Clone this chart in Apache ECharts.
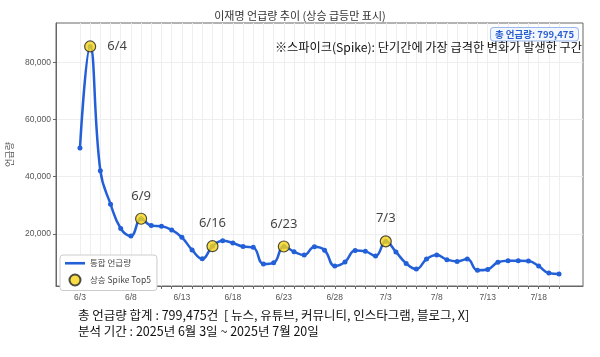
<!DOCTYPE html>
<html><head><meta charset="utf-8">
<script src="https://cdn.jsdelivr.net/npm/echarts@6/dist/echarts.min.js"></script>
<style>html,body{margin:0;padding:0;background:#fff}#c{width:600px;height:357px}</style>
</head><body><div id="c"></div>
<script>
const dates = ['6/3','6/4','6/5','6/6','6/7','6/8','6/9','6/10','6/11','6/12','6/13','6/14','6/15','6/16','6/17','6/18','6/19','6/20','6/21','6/22','6/23','6/24','6/25','6/26','6/27','6/28','6/29','6/30','7/1','7/2','7/3','7/4','7/5','7/6','7/7','7/8','7/9','7/10','7/11','7/12','7/13','7/14','7/15','7/16','7/17','7/18','7/19','7/20'];
const mentions = [50000,85500,42100,30400,21900,19300,25300,22900,22700,21400,18800,14400,11300,15700,17600,16800,15600,15300,9500,9900,15600,13800,12600,15500,14300,8800,10200,14200,13900,12300,17400,13700,9700,7700,11200,12600,11000,10400,11200,7300,7600,10100,10600,10600,10500,8800,6300,6000];
const spikeDates = ['6/4','6/9','6/16','6/23','7/3'];
const xLabelDates = ['6/3','6/8','6/13','6/18','6/23','6/28','7/3','7/8','7/13','7/18'];
const yTicks = [20000,40000,60000,80000];
const totalText = '총 언급량: 799,475';
const noteText = '※스파이크(Spike): 단기간에 가장 급격한 변화가 발생한 구간';
const footer1 = '총 언급량 합계 : 799,475건  [ 뉴스, 유튜브, 커뮤니티, 인스타그램, 블로그, X]';
const footer2 = '분석 기간 : 2025년 6월 3일 ~ 2025년 7월 20일';

const KR = '"Noto Sans CJK KR","Noto Sans",sans-serif';
const lineData = mentions.map((v,i)=>[i,v]);
const spikeData = spikeDates.map((d,k)=>{
  const i=dates.indexOf(d);
  const item={value:[i,mentions[i]]};
  if(k===0) item.label={position:'right',distance:11};
  return item;
});

const chart = echarts.init(document.getElementById('c'));
chart.setOption({
  animation:false,
  backgroundColor:'#fff',
  title:{text:'이재명 언급량 추이 (상승 급등만 표시)',left:'center',top:5,
    textStyle:{fontFamily:KR,fontSize:11,fontWeight:'normal',color:'#333'}},
  grid:{left:56,right:17,top:23,bottom:71,containLabel:false,outerBoundsMode:'none',show:true,borderColor:'#666',borderWidth:1,backgroundColor:'#fff'},
  legend:{orient:'vertical',left:60,top:255,itemWidth:20,itemHeight:11,itemGap:6,
    padding:[4,6,4,5],borderColor:'#ccc',borderWidth:1,borderRadius:3,backgroundColor:'#fff',
    textStyle:{fontFamily:KR,fontSize:8.5,color:'#444'},
    data:[{name:'통합 언급량',icon:'path://M0,0H20V2.6H0Z'},{name:'상승 Spike Top5',icon:'circle'}]},
  xAxis:{type:'value',min:-2.35,max:49.35,
    axisLine:{show:true,onZero:false,lineStyle:{color:'#666'}},
    axisTick:{show:true,length:3,lineStyle:{color:'#666'},customValues:dates.map((d,i)=>i)},
    axisLabel:{customValues:xLabelDates.map(d=>dates.indexOf(d)),formatter:v=>dates[Math.round(v)],
      fontFamily:'"Liberation Sans",sans-serif',fontSize:8.5,color:'#555',margin:7},
    splitLine:{show:true,lineStyle:{color:'#eeeeee',width:1}}},
  yAxis:{type:'value',min:1800,max:93700,name:'언급량',nameLocation:'middle',nameGap:40,nameRotate:90,
    nameTextStyle:{fontFamily:KR,fontSize:9,color:'#555'},
    axisLine:{show:true,onZero:false,lineStyle:{color:'#666'}},
    axisTick:{show:true,length:3,lineStyle:{color:'#666'},customValues:yTicks},
    axisLabel:{customValues:yTicks,formatter:v=>v.toLocaleString('en-US'),
      fontFamily:'"Liberation Sans",sans-serif',fontSize:8.5,color:'#555',margin:5},
    splitLine:{show:true,lineStyle:{color:'#eeeeee'}}},
  graphic:[
    {type:'text',right:21,top:27,z:100,style:{text:totalText,fontFamily:KR,fontSize:9.5,fontWeight:'bold',fill:'#2a5fd0',
      backgroundColor:'#f3f7ff',borderColor:'#9bb8ee',borderWidth:1,borderRadius:3,padding:[2,4,1,4]}},
    {type:'text',right:18,top:41,z:100,style:{text:noteText,fontFamily:KR,fontSize:12.2,fill:'#111'}},
    {type:'text',left:78,top:309,style:{text:footer1,fontFamily:KR,fontSize:12.5,fill:'#111'}},
    {type:'text',left:78,top:325,style:{text:footer2,fontFamily:KR,fontSize:12.5,fill:'#111'}}
  ],
  series:[
    {name:'통합 언급량',type:'line',data:lineData,smooth:0.45,symbol:'circle',symbolSize:5,showSymbol:true,
      lineStyle:{color:'#2360d8',width:2.5},itemStyle:{color:'#2360d8'},z:3},
    {name:'상승 Spike Top5',type:'scatter',data:spikeData,symbol:'circle',symbolSize:11,
      itemStyle:{color:'#f7d417',borderColor:'#222',borderWidth:1.2},z:5,
      label:{show:true,formatter:p=>dates[p.value[0]],position:'top',distance:10,
        fontFamily:'"Noto Sans",sans-serif',fontSize:13,color:'#111'}}
  ]
});
</script></body></html>
